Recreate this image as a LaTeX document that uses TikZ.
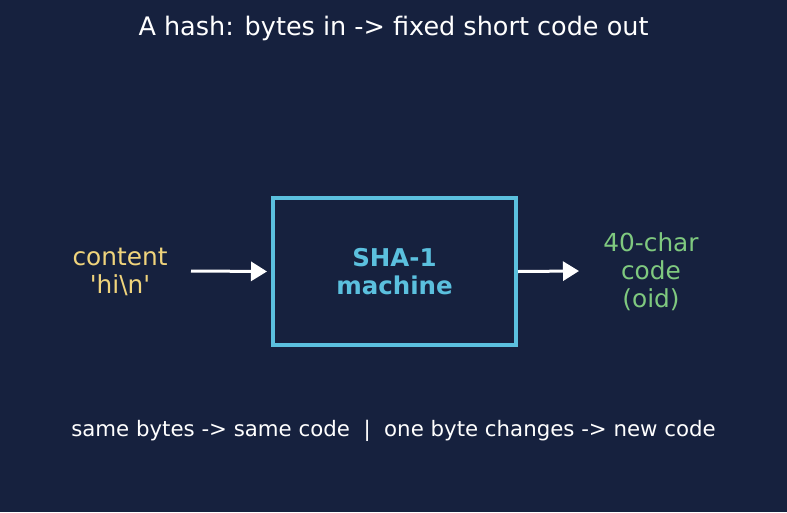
\documentclass[tikz,border=0pt]{standalone}
\usepackage{fontspec}
\setmainfont{DejaVu Sans}[Ligatures=TeXOff]
\usepackage{xcolor}
\usetikzlibrary{arrows.meta}

\definecolor{navy}{HTML}{16213E}
\definecolor{hashblue}{HTML}{5BC0DE}
\definecolor{inyellow}{HTML}{F0D47C}
\definecolor{outgreen}{HTML}{7FC97F}

\begin{document}
\begin{tikzpicture}[x=1pt, y=-1pt,
  label/.style={align=center, font=\fontsize{24.8}{28}\selectfont},
  machine/.style={draw=hashblue, line width=4pt, minimum width=243pt, minimum height=147pt,
    text=hashblue, align=center, font=\fontsize{24.5}{28}\selectfont\bfseries},
  flow/.style={white, line width=3pt, -{Triangle[length=16pt, width=19pt]}}]

\fill[navy] (0,0) rectangle (787,512);

\node[white, font=\fontsize{25.5}{28}\selectfont] (title) at (393.5,28) {A hash: bytes in -> fixed short code out};

\node[machine] (sha) at (394.5,271.5) {SHA-1\\machine};
\node[label, text=inyellow] (input) at (120,272) {content\\'hi\textbackslash n'};
\node[label, text=outgreen] (oid) at (651,272) {40-char\\code\\(oid)};

\coordinate (inL) at (191,271);
\coordinate (outR) at (579,271);
\draw[flow, shorten >=4pt] (inL) -- (sha.west);
\draw[flow] (sha.east) -- (outR);

\node[white, font=\fontsize{21.3}{24}\selectfont] (note) at (393.5,431) {same bytes -> same code \ | \ one byte changes -> new code};

\end{tikzpicture}
\end{document}
